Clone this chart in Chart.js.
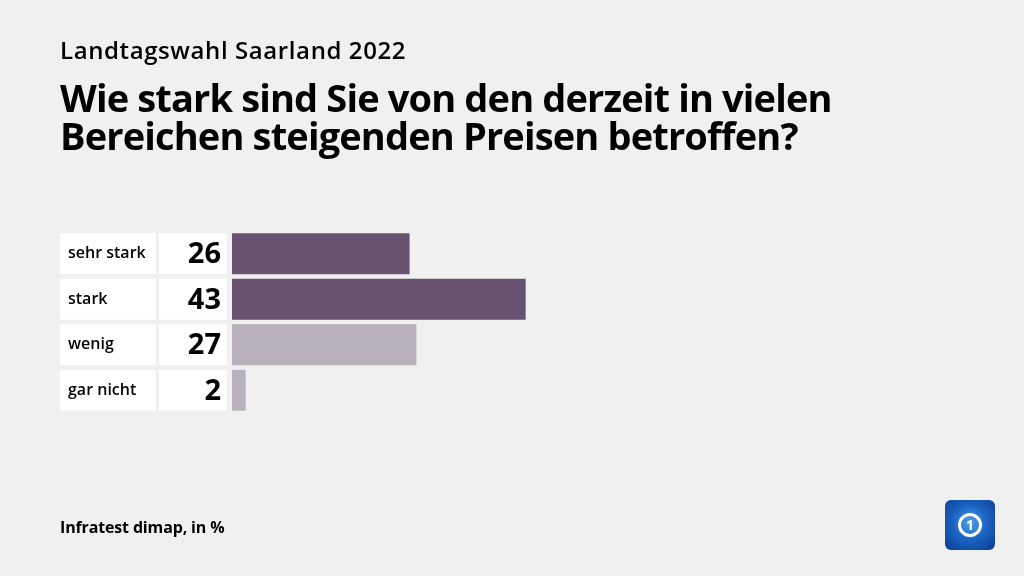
<!DOCTYPE html>
<html lang="de">
<head>
    <meta charset="UTF-8">
    <title>Landtagswahl Saarland 2022</title>
    <style>
        body {
            margin: 0;
            padding: 0;
            background-color: #f0f0f0;
            font-family: 'Open Sans', sans-serif;
            color: #000;
        }

        .wrap {
            position: relative;
            width: 1024px;
            height: 576px;
            overflow: hidden;
        }

        .kicker {
            position: absolute;
            left: 60px;
            top: 33px;
            font-size: 24px;
            font-weight: 600;
            letter-spacing: 0.6px;
            white-space: nowrap;
        }

        .headline {
            position: absolute;
            left: 60px;
            top: 78px;
            font-size: 38px;
            font-weight: 700;
            line-height: 38px;
            letter-spacing: -0.85px;
            white-space: nowrap;
        }

        .source {
            position: absolute;
            left: 60px;
            top: 516px;
            font-size: 16px;
            font-weight: 700;
            letter-spacing: -0.15px;
            white-space: nowrap;
        }

        canvas {
            position: absolute;
            left: 0;
            top: 0;
        }

        .logo {
            position: absolute;
            left: 945px;
            top: 500px;
            width: 50px;
            height: 50px;
            border-radius: 6px;
            background: radial-gradient(circle at 50% 45%, #4fa3e8 0%, #1c64c4 45%, #0a3b8f 100%);
        }

        .logo .ring {
            position: absolute;
            left: 13px;
            top: 13px;
            width: 18px;
            height: 18px;
            border: 3px solid #fff;
            border-radius: 50%;
            color: #fff;
            font: 700 14px 'Open Sans', sans-serif;
            text-align: center;
            line-height: 18px;
        }
    </style>
</head>
<body>
<div class="wrap">
    <canvas id="chart" width="1024" height="576"></canvas>
    <div class="kicker">Landtagswahl Saarland 2022</div>
    <div class="headline">Wie stark sind Sie von den derzeit in vielen<br>Bereichen steigenden Preisen betroffen?</div>
    <div class="source">Infratest dimap, in %</div>
    <div class="logo"><div class="ring">1</div></div>
</div>

<script src="https://cdn.jsdelivr.net/npm/chart.js"></script>
<script>
    // chart data
    const categories = ['sehr stark', 'stark', 'wenig', 'gar nicht'];
    const values = [26, 43, 27, 2];
    const barColors = ['#67536f', '#67536f', '#b8b1bc', '#b8b1bc'];

    // white label and value boxes left of each bar
    const boxPlugin = {
        id: 'boxes',
        afterDatasetsDraw(chart) {
            const ctx = chart.ctx;
            const meta = chart.getDatasetMeta(0);
            meta.data.forEach(function (bar, i) {
                const p = bar.getProps(['y', 'height'], true);
                const top = p.y - p.height / 2;
                ctx.save();
                ctx.fillStyle = '#ffffff';
                ctx.fillRect(60, top, 96, p.height);
                ctx.fillRect(159, top, 68, p.height);
                ctx.fillStyle = '#000';
                ctx.textBaseline = 'middle';
                ctx.textAlign = 'left';
                ctx.font = '600 16px "Open Sans"';
                ctx.fillText(categories[i], 68, p.y);
                ctx.textAlign = 'right';
                ctx.font = '700 29px "Open Sans"';
                ctx.fillText(values[i], 221, p.y + 1);
                ctx.restore();
            });
        }
    };

    new Chart(document.getElementById('chart'), {
        type: 'bar',
        data: {
            labels: categories,
            datasets: [{
                data: values,
                backgroundColor: barColors,
                borderWidth: 0,
                barPercentage: 0.897,
                categoryPercentage: 1
            }]
        },
        options: {
            indexAxis: 'y',
            responsive: false,
            animation: false,
            layout: {
                padding: { left: 232, right: 109, top: 231, bottom: 163 }
            },
            scales: {
                x: { display: false, min: 0, max: 100 },
                y: { display: false }
            },
            plugins: {
                legend: { display: false },
                tooltip: { enabled: false }
            }
        },
        plugins: [boxPlugin]
    });
</script>
</body>
</html>
